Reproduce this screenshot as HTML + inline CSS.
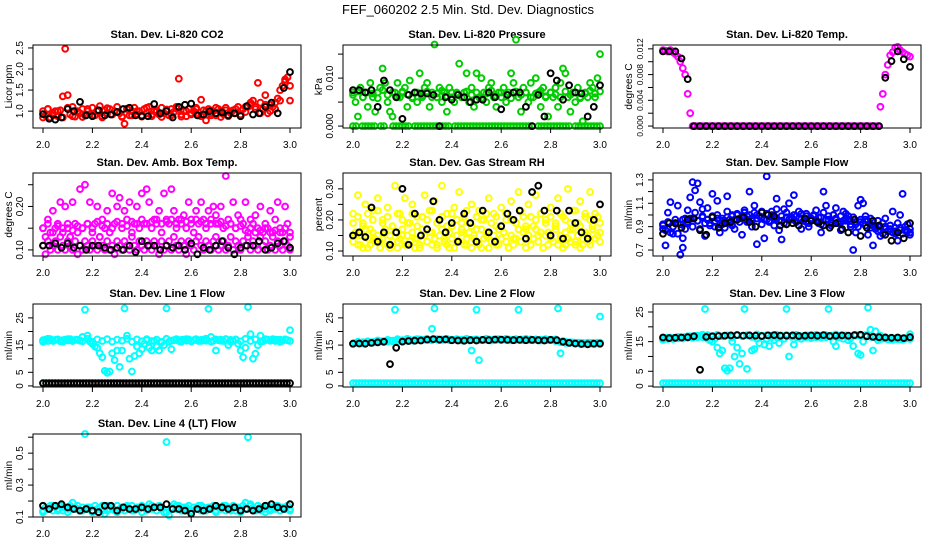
<!DOCTYPE html>
<html><head><meta charset="utf-8">
<style>
html,body{margin:0;padding:0;background:#fff;}
svg{display:block;font-family:"Liberation Sans",sans-serif;}
</style></head>
<body>
<svg id="chart" width="936" height="540" viewBox="0 0 936 540" xmlns="http://www.w3.org/2000/svg">
<rect width="936" height="540" fill="#fff"/>
<text x="468" y="14" text-anchor="middle" font-size="13">FEF_060202  2.5 Min. Std. Dev. Diagnostics</text>
</svg>
<script>
// ---- data ----
const xTickValues=[2.0,2.2,2.4,2.6,2.8,3.0];
const xTickLabels=["2.0","2.2","2.4","2.6","2.8","3.0"];

const co2Red=[1.0,0.9,1.05,0.85,0.95,1.0,0.88,1.02,1.35,2.48,1.38,0.92,1.1,0.87,1.0,0.95,1.05,0.9,1.0,0.93,1.08,0.9,1.0,1.12,0.88,1.02,0.95,1.05,0.92,1.0,1.1,0.95,0.88,0.7,1.05,0.9,1.0,1.08,0.93,1.0,0.9,1.05,0.95,1.1,0.88,1.0,1.02,0.92,1.08,0.95,1.0,0.9,1.05,0.98,1.1,1.77,0.92,1.0,0.88,1.05,0.95,1.0,1.08,0.9,1.27,1.02,0.78,1.05,0.95,1.0,0.9,1.05,1.0,0.93,1.08,0.88,1.0,1.02,0.95,1.1,0.92,1.05,0.98,1.1,1.15,1.25,1.1,1.67,1.2,1.05,1.38,0.95,1.15,1.1,1.05,1.3,1.25,1.6,1.75,1.8,1.25];
const co2RedB=[0.85,1.05,0.9,1.0,0.85,1.08,0.88,0.98,0.86,1.05,0.9,1.02,0.85,1.07,0.92,0.98,0.86,1.06,0.9,1.0,0.87,1.08,0.92,0.99,0.86,1.04,0.9,1.06,0.87,1.0,0.92,1.05,0.88,1.0,0.9,1.08,0.86,1.02,0.95,1.05,0.9,1.1,1.2,1.05,0.95,1.15,1.0,1.2,1.5,1.7,1.6];
const co2Black=[0.93,0.82,0.8,0.85,1.05,1.0,1.22,0.9,0.88,1.02,0.9,0.92,0.98,1.05,1.08,0.9,0.88,0.88,1.17,0.95,1.0,0.85,1.1,1.15,1.18,0.9,0.92,1.0,0.95,0.97,0.9,0.95,0.88,1.12,0.92,0.95,1.1,1.2,0.95,1.55,1.93];

const presGreen=[0.007,0.005,0.002,0.008,0.006,0.007,0.004,0.009,0.006,0.003,0.007,0.008,0.012,0.009,0.005,0.003,0.002,0.007,0.009,0.006,0.007,0.008,0.004,0.0095,0.006,0.007,0.005,0.011,0.006,0.008,0.009,0.004,0.007,0.017,0.006,0.008,0.005,0.007,0.003,0.008,0.006,0.005,0.007,0.013,0.006,0.007,0.011,0.005,0.008,0.004,0.011,0.006,0.010,0.007,0.005,0.008,0.009,0.006,0.004,0.007,0.006,0.008,0.005,0.007,0.011,0.009,0.018,0.006,0.003,0.008,0.007,0.005,0.009,0.006,0.010,0.007,0.004,0.008,0.006,0.002,0.007,0.006,0.008,0.004,0.009,0.012,0.011,0.006,0.003,0.007,0.005,0.008,0.006,0.001,0.007,0.006,0.009,0.008,0.006,0.010,0.015];
const presGreenB=[0.0065,0.0072,0.006,0.007,0.0068,0.0058,0.0075,0.0065,0.007,0.006,0.0072,0.0066,0.0058,0.007,0.0064,0.0072,0.006,0.0068,0.0074,0.0062,0.007,0.0066,0.006,0.0072,0.0065,0.007,0.0058,0.0068,0.0074,0.0062,0.007,0.0066,0.0058,0.0072,0.0065,0.007,0.006,0.0068,0.0074,0.0062,0.007,0.0066,0.006,0.0072,0.0065,0.007,0.0058,0.0068,0.0074,0.0068,0.0072];
const presZero=[0,0,null,0,0,0,0,0,null,0,0,null,null,0,0,0,0,0,0,null,0,0,0,0,0,0,0,0,0,0,0,0,null,0,0,0,0,0,0,0,0,0,0,0,0,0,0,0,0,0,0,0,0,0,0,0,0,0,0,null,0,0,0,0,0,0,0,0,0,0,0,null,0,0,0,0,0,0,0,0,0];
const presBlack=[0.0075,0.0075,0.007,0.0075,0.004,0.0095,0.0075,0.006,0.0015,0.0065,0.007,0.0068,0.0068,0.0065,0,0.006,0.0055,0.0065,0.006,0.005,0.0055,0.0055,0.007,0.006,0.0035,0.0065,0.007,0.007,0.004,0,0.0065,0.002,0.011,0.0095,0.0055,0.0085,0.007,0.0068,0.002,0.004,0.0085];

const tempMag=[0.0118,0.0117,0.0116,0.0118,0.0115,0.0112,0.0108,0.0100,0.0090,0.0080,0.0050,0.002,
0,0,0,0,0,0,0,0,0,0, 0,0,0,0,0,0,0,0,0,0, 0,0,0,0,0,0,0,0,0,0, 0,0,0,0,0,0,0,0,0,0,
0,0,0,0,0,0,0,0,0,0, 0,0,0,0,0,0,0,0,0,0, 0,0,0,0,0,0,0,0,0,0, 0,0,0,0,0,0,
0.003,0.005,0.008,0.0095,0.011,0.0115,0.0122,0.0123,0.0118,0.0115,0.0112,0.011,0.0108];
const tempBlack=[0.0116,0.0116,0.0116,0.0105,0.0073,0,0,0,0,0,0,0,0,0,0,0,0,0,0,0,0,0,0,0,0,0,0,0,0,0,0,0,0,0,0,0,0.0075,0.0101,0.0116,0.0104,0.0092];

const ambMagA=[0.15,0.13,0.17,0.14,0.19,0.15,0.16,0.21,0.14,0.20,0.15,0.13,0.21,0.16,0.14,0.24,0.15,0.25,0.16,0.21,0.14,0.16,0.20,0.13,0.17,0.15,0.19,0.14,0.23,0.16,0.20,0.22,0.15,0.19,0.17,0.21,0.14,0.16,0.20,0.15,0.23,0.16,0.24,0.21,0.15,0.17,0.16,0.19,0.14,0.23,0.17,0.16,0.24,0.19,0.15,0.17,0.16,0.18,0.15,0.21,0.17,0.14,0.19,0.16,0.21,0.17,0.15,0.19,0.16,0.20,0.18,0.16,0.20,0.15,0.27,0.17,0.16,0.21,0.15,0.18,0.17,0.16,0.21,0.14,0.17,0.16,0.18,0.15,0.20,0.14,0.16,0.15,0.19,0.14,0.17,0.21,0.15,0.14,0.20,0.16,0.13];
const ambMagB=[0.11,0.09,0.12,0.10,0.11,0.12,0.10,0.13,0.11,0.10,0.12,0.11,0.10,0.12,0.09,0.11,0.10,0.12,0.11,0.10,0.12,0.11,0.10,0.13,0.11,0.10,0.12,0.10,0.11,0.09,0.12,0.11,0.10,0.12,0.11,0.10,0.13,0.11,0.10,0.12,0.11,0.10,0.12,0.11,0.10,0.12,0.11,0.09,0.12,0.10,0.11,0.12,0.10,0.13,0.11,0.10,0.12,0.11,0.09,0.12,0.11,0.10,0.12,0.13,0.11,0.10,0.12,0.11,0.10,0.12,0.13,0.10,0.11,0.12,0.10,0.11,0.13,0.10,0.12,0.11,0.10,0.12,0.11,0.13,0.10,0.12,0.11,0.10,0.13,0.11,0.12,0.10,0.11,0.13,0.10,0.12,0.11,0.10,0.12,0.11,0.10];
const ambMagC=[0.15,0.16,0.14,0.155,0.15,0.16,0.145,0.155,0.15,0.16,0.15,0.165,0.155,0.16,0.15,0.165,0.16,0.155,0.165,0.16,0.17,0.16,0.165,0.17,0.16,0.165,0.17,0.16,0.17,0.165,0.16,0.17,0.165,0.16,0.17,0.16,0.165,0.155,0.16,0.15,0.155,0.145,0.15,0.14,0.145,0.15,0.14,0.145,0.14,0.15,0.14];
const ambBlack=[0.11,0.11,0.115,0.105,0.115,0.105,0.11,0.10,0.11,0.11,0.105,0.10,0.105,0.10,0.11,0.095,0.12,0.11,0.11,0.10,0.11,0.105,0.11,0.10,0.115,0.09,0.105,0.10,0.11,0.12,0.105,0.09,0.105,0.11,0.11,0.12,0.10,0.105,0.115,0.12,0.105];

const rhYelA=[0.22,0.15,0.28,0.12,0.19,0.25,0.11,0.17,0.23,0.14,0.27,0.13,0.20,0.16,0.24,0.11,0.18,0.31,0.13,0.22,0.15,0.27,0.12,0.19,0.25,0.14,0.21,0.11,0.17,0.28,0.13,0.23,0.16,0.26,0.12,0.20,0.31,0.14,0.22,0.11,0.18,0.24,0.13,0.29,0.16,0.21,0.12,0.19,0.25,0.14,0.17,0.23,0.11,0.20,0.15,0.27,0.13,0.22,0.18,0.12,0.24,0.16,0.20,0.11,0.26,0.14,0.19,0.29,0.13,0.21,0.17,0.25,0.12,0.18,0.28,0.15,0.22,0.11,0.20,0.16,0.24,0.13,0.19,0.27,0.14,0.21,0.12,0.30,0.17,0.23,0.13,0.19,0.26,0.12,0.22,0.15,0.29,0.18,0.14,0.21,0.16];
const rhYelB=[0.13,0.16,0.12,0.15,0.11,0.17,0.14,0.12,0.16,0.13,0.15,0.11,0.14,0.17,0.12,0.15,0.13,0.16,0.11,0.14,0.17,0.12,0.15,0.13,0.16,0.11,0.14,0.12,0.17,0.15,0.13,0.16,0.12,0.14,0.11,0.15,0.17,0.13,0.12,0.16,0.14,0.11,0.15,0.13,0.17,0.12,0.14,0.16,0.11,0.15,0.13,0.12,0.17,0.14,0.16,0.11,0.13,0.15,0.12,0.17,0.14,0.16,0.13,0.11,0.15,0.12,0.14,0.17,0.13,0.16,0.11,0.15,0.12,0.14,0.17,0.13,0.16,0.11,0.15,0.12,0.14,0.13,0.17,0.12,0.15,0.11,0.16,0.14,0.13,0.17,0.12,0.15,0.11,0.14,0.16,0.13,0.12,0.17,0.14,0.15,0.13];
const rhYelC=[0.19,0.21,0.18,0.22,0.2,0.23,0.19,0.21,0.18,0.22,0.2,0.19,0.22,0.18,0.21,0.2,0.23,0.19,0.21,0.18,0.22,0.2,0.19,0.23,0.18,0.21,0.2,0.22,0.19,0.21,0.18,0.22,0.2,0.19,0.23,0.18,0.21,0.2,0.22,0.19,0.21,0.18,0.22,0.2,0.19,0.23,0.18,0.21,0.2,0.22,0.19];
const rhBlack=[0.15,0.16,0.145,0.24,0.13,0.16,0.12,0.16,0.30,0.12,0.22,0.15,0.17,0.26,0.20,0.16,0.19,0.13,0.22,0.19,0.13,0.23,0.16,0.13,0.18,0.22,0.20,0.23,0.14,0.29,0.31,0.23,0.15,0.23,0.14,0.23,0.19,0.16,0.14,0.20,0.25];

const flowBlueA=[0.91,0.87,0.94,0.85,0.90,0.96,0.84,0.92,0.80,0.88,0.93,0.97,0.90,1.02,0.95,0.88,0.99,0.93,0.96,0.91,0.98,0.94,1.00,0.92,0.97,0.95,1.03,0.93,0.99,0.96,1.01,0.94,0.98,1.04,0.96,1.00,0.95,1.02,0.97,0.99,1.03,0.96,1.01,0.94,1.00,0.97,1.05,0.95,0.99,0.93,1.02,0.96,0.98,1.00,0.94,0.97,1.01,0.95,0.99,0.93,0.97,1.00,0.95,0.98,0.92,1.02,0.96,0.99,0.94,1.00,0.97,0.93,0.99,0.95,1.01,0.96,0.92,0.98,0.94,0.90,0.96,0.93,0.99,0.95,0.97,0.91,0.88,0.86,0.90,0.84,0.88,0.86,0.91,0.85,0.89,0.93,0.87,0.84,0.90,0.86,0.85];
const flowBlueB=[0.88,0.74,1.02,1.11,0.84,0.93,1.08,0.66,0.72,0.97,1.04,1.15,1.28,1.21,1.27,1.11,1.05,0.82,1.06,0.93,1.18,0.90,1.12,0.85,0.92,0.89,1.16,0.96,0.91,0.88,1.00,0.97,0.83,1.02,0.94,1.20,0.90,1.08,0.75,0.99,0.92,0.80,1.33,0.95,1.03,0.91,1.14,0.87,0.79,1.05,0.92,1.10,0.97,1.17,0.94,1.03,0.88,0.95,1.01,0.90,0.96,0.99,1.04,0.93,0.85,1.20,1.08,0.96,0.91,1.00,1.06,0.94,0.87,1.03,0.95,0.99,0.90,0.70,0.85,1.08,1.13,1.10,0.96,0.83,0.92,0.74,0.89,0.95,0.82,0.93,0.97,0.86,0.91,1.03,0.84,0.78,1.00,1.18,0.87,0.92,0.83];
const flowBlueC=[0.92,0.88,0.9,0.93,0.96,0.94,0.97,0.95,0.98,0.96,0.99,0.97,0.95,0.98,1.0,0.96,0.98,0.99,0.97,1.0,0.98,0.96,0.99,0.97,0.95,0.98,0.96,0.99,0.97,0.94,0.97,0.95,0.98,0.96,0.93,0.96,0.94,0.97,0.95,0.92,0.94,0.91,0.89,0.9,0.87,0.9,0.88,0.86,0.89,0.87,0.88];
const flowBlack=[0.84,0.93,0.93,0.89,0.96,0.97,0.87,0.83,0.98,0.89,0.93,0.94,0.96,0.98,0.94,0.90,1.02,1.00,0.99,0.91,0.92,0.93,0.91,0.97,0.95,0.94,0.91,0.89,0.93,0.88,0.85,0.96,0.82,0.89,0.95,0.91,0.83,0.78,0.85,0.80,0.93];

const line1CyanA=[16.8,17,16.5,17.2,16.6,16.9,17.1,16.4,16.8,17,16.7,17.2,16.5,16.9,17,16.6,18,28,18.5,16.3,15.5,14.5,14,12,10.5,5.5,4.8,5.3,12,9.5,13,7,13,28.5,18.5,10,5.3,11,14.5,12,13.5,15.5,16.8,14,13,16.5,14.5,13,16,15,28.5,16.2,13.5,16.8,17.2,16.5,16.9,17,16.6,17.1,16.4,16.8,17.2,16.5,16.9,17,16.6,28.3,18,16.6,13,16.8,17,16.5,17.2,15,16.9,16.6,17.1,15.5,13,10.5,14,29,19,10,11.8,15,18.5,16.4,16.8,17,16.7,17.2,16.5,16.9,17,16.6,17.1,16.8,20.5];
const line1CyanB=[16.2,17.3,16.5,17,16.3,17.2,16.6,16.9,16.4,17.3,16.2,17.1,16.5,17.2,16.3,17,16.6,17.3,16.2,17.1,16.4,17.2,16.5,17,16.3,17.3,16.6,17.1,16.2,17.2,16.4,17,16.5,17.3,16.3,17.1,16.6,17.2,16.2,17,16.4,17.3,16.5,17.1,16.3,17.2,16.6,17,16.2,17.1,16.5];
const line1Zero=[1];
const line1Black=[1,1,1,1,1,1,1,1,1,1,1,1,1,1,1,1,1,1,1,1,1,1,1,1,1,1,1,1,1,1,1,1,1,1,1,1,1,1,1,1,1,1,1,1,1,1,1,1,1,1,1,1,1,1,1,1,1,1,1,1,1,1,1,1,1,1,1,1,1,1,1,1,1,1,1,1,1,1,1,1,1];

const line2CyanA=[15.5,15.8,16,15.6,16.1,15.8,16.2,16,15.9,16.3,16.1,16.4,16.2,16.5,16.3,16.6,16.4,28,16.5,16.7,16.4,16.8,16.6,16.9,16.7,17,16.8,17.1,16.9,17,17.2,16.9,21,28.5,17,16.8,17.1,16.9,17.2,16.8,17,16.9,17.1,16.8,17,16.9,17.2,16.7,13,17,28,9.5,16.8,17,16.9,17.1,16.8,17,16.9,17.2,16.8,17,16.9,17.1,16.8,17,16.9,28,17.1,16.8,17,16.9,17.1,16.8,17,16.7,17,16.9,17.1,16.8,17,16.9,17.1,28.5,12,16.5,16.2,16,15.8,16,15.6,15.9,15.5,15.8,15.6,15.9,15.5,15.8,15.6,15.9,25.5];
const line2CyanB=[15.5,16.2,15.8,16.4,16.1,16.7,16.4,16.9,16.6,17.2,16.8,17.3,16.7,17.2,16.9,17.3,16.8,17.2,16.9,17.3,16.8,17.2,16.7,17.3,16.9,17.1,16.8,17.3,16.7,17.2,16.9,17.3,16.8,17.2,16.9,17.3,16.8,17.1,16.7,17.2,16.9,16.5,16.1,15.8,16,15.6,15.9,15.5,15.8,15.6,15.9];
const line2Zero=[1,1,1,1,1,1,1,1,1,1,1,1,1,1,1,1,1,1,1,1,1,1,1,1,1,1,1,1,1,1,1,1,1,1,1,1,1,1,1,1,1,1,1,1,1,1,1,1,1,1,1,1,1,1,1,1,1,1,1,1,1,1,1,1,1,1,1,1,1,1,1,1,1,1,1,1,1,1,1,1,1];
const line2Black=[15.5,15.6,15.5,15.8,16,16.2,8,14,16.3,16.5,16.6,16.7,17,17.2,17,17.1,16.8,16.7,16.6,16.8,16.7,16.9,16.8,17,17,16.9,16.8,16.9,16.8,16.9,16.8,16.7,16.9,16.8,16.2,15.8,15.6,15.4,15.3,15.5,15.5];

const line3CyanA=[15.8,16.2,15.9,16.4,16,16.3,16.1,16.5,16.2,16.6,16.3,16.8,16.4,16.9,16.5,17,17.3,26,16,15.5,15,16,13,11,12,6,5.2,6,15,10,13,7.5,11,26,5.8,17,12,12.5,16,14.5,17,14,16,13.5,17,15.5,16.5,14.5,17,16,26,10,17,14,16.5,17,16,16.8,16.5,17,16.2,16.8,16.5,17,16.3,16.8,16.5,26,17,15,13.5,16.5,17,16,16.8,15.5,16.2,13.5,17,11,10.5,15,17,26.5,19,12,18.5,15.5,17,16,16.5,15.8,16.2,15.6,16,15.8,16.1,15.7,16,16.2,17.5];
const line3CyanB=[15.6,16.3,15.9,16.6,16.1,16.8,16.3,17,16.5,17.2,16.6,17.3,16.8,17.1,16.5,17.3,16.9,17.2,16.6,17.4,16.8,17.1,16.5,17.3,16.9,17.2,16.6,17.3,16.8,17.1,16.5,17.3,16.9,17.2,16.6,17.4,16.8,17.1,16.5,17.3,16.9,17.2,16.6,16.3,15.9,16.1,15.7,16,15.8,16.1,15.9];
const line3Zero=[1,1,1,1,1,1,1,1,1,1,1,1,1,1,1,1,1,1,1,1,1,1,1,1,1,1,1,1,1,1,1,1,1,1,1,1,1,1,1,1,1,1,1,1,1,1,1,1,1,1,1,1,1,1,1,1,1,1,1,1,1,1,1,1,1,1,1,1,1,1,1,1,1,1,1,1,1,1,1,1,1];
const line3Black=[16.4,16.2,16.3,16.4,16.5,16.8,5.5,16.6,16.8,16.9,17,17.1,17.2,17,17.1,17,16.9,17.1,17.2,17,17,17.1,16.9,17,17.1,17,17.2,16.9,17,17.1,17,17.2,17.3,16.8,16.6,16.5,16.4,16.3,16.4,16.2,16.5];

const line4CyanA=[0.14,0.16,0.15,0.17,0.14,0.16,0.15,0.17,0.14,0.16,0.15,0.17,0.19,0.16,0.15,0.14,0.16,0.62,0.15,0.16,0.14,0.17,0.15,0.16,0.14,0.12,0.17,0.15,0.16,0.14,0.17,0.15,0.16,0.14,0.16,0.15,0.17,0.14,0.16,0.15,0.17,0.16,0.14,0.18,0.15,0.16,0.14,0.17,0.15,0.13,0.57,0.11,0.16,0.18,0.15,0.17,0.14,0.16,0.15,0.17,0.14,0.16,0.15,0.17,0.14,0.16,0.15,0.16,0.15,0.17,0.14,0.16,0.15,0.17,0.14,0.16,0.15,0.17,0.14,0.16,0.15,0.17,0.19,0.6,0.18,0.16,0.15,0.17,0.14,0.16,0.15,0.17,0.14,0.16,0.15,0.17,0.14,0.16,0.15,0.17,0.14];
const line4CyanB=[0.13,0.15,0.17,0.14,0.16,0.13,0.15,0.17,0.14,0.16,0.13,0.15,0.17,0.14,0.16,0.13,0.15,0.17,0.14,0.16,0.13,0.15,0.17,0.14,0.16,0.13,0.15,0.17,0.14,0.16,0.13,0.15,0.17,0.14,0.16,0.13,0.15,0.17,0.14,0.16,0.13,0.15,0.17,0.14,0.16,0.13,0.15,0.17,0.14,0.16,0.15];
const line4Black=[0.17,0.15,0.17,0.18,0.16,0.15,0.14,0.15,0.14,0.13,0.17,0.17,0.14,0.16,0.15,0.15,0.16,0.15,0.16,0.16,0.18,0.15,0.15,0.14,0.12,0.15,0.14,0.15,0.17,0.16,0.15,0.16,0.14,0.15,0.14,0.15,0.17,0.18,0.16,0.15,0.18];

// ---- layout ----
const NS="http://www.w3.org/2000/svg";
const svg=document.getElementById('chart');
const COLX=[33,343,653], ROWY=[45,173,304,434], BW=268, BH=83;
const panels=[
 {key:'co2',title:'Stan. Dev. Li-820 CO2',ylab:'Licor ppm',c:0,r:0,dom:[0.6,2.57],ticks:[1.0,1.5,2.0,2.5],labs:['1.0','1.5','2.0','2.5'],series:[[co2Red,'#ff0000'],[co2RedB,'#ff0000'],[co2Black,'#000']]},
 {key:'pressure',title:'Stan. Dev. Li-820 Pressure',ylab:'kPa',c:1,r:0,dom:[-0.0004,0.0169],ticks:[0,0.005,0.010,0.015],labs:['0.000','','0.010',''],series:[[presGreen,'#00cd00'],[presGreenB,'#00cd00'],[presZero,'#00cd00'],[presBlack,'#000']]},
 {key:'temp',title:'Stan. Dev. Li-820 Temp.',ylab:'degrees C',c:2,r:0,dom:[-0.0003,0.0126],ticks:[0,0.002,0.004,0.006,0.008,0.010,0.012],labs:['0.000','','0.004','','0.008','','0.012'],fs:8.5,series:[[tempMag,'#ff00ff'],[tempBlack,'#000']]},
 {key:'ambbox',title:'Stan. Dev. Amb. Box Temp.',ylab:'degrees C',c:0,r:1,dom:[0.086,0.277],ticks:[0.10,0.15,0.20,0.25],labs:['0.10','','0.20',''],series:[[ambMagA,'#ff00ff'],[ambMagB,'#ff00ff'],[ambMagC,'#ff00ff'],[ambBlack,'#000']]},
 {key:'rh',title:'Stan. Dev. Gas Stream RH',ylab:'percent',c:1,r:1,dom:[0.084,0.351],ticks:[0.10,0.15,0.20,0.25,0.30],labs:['0.10','','0.20','','0.30'],series:[[rhYelA,'#ffff00'],[rhYelB,'#ffff00'],[rhYelC,'#ffff00'],[rhBlack,'#000']]},
 {key:'sampleflow',title:'Stan. Dev. Sample Flow',ylab:'ml/min',c:2,r:1,dom:[0.649,1.359],ticks:[0.7,0.8,0.9,1.0,1.1,1.2,1.3],labs:['0.7','','0.9','','1.1','','1.3'],series:[[flowBlueA,'#0000ff'],[flowBlueB,'#0000ff'],[flowBlueC,'#0000ff'],[flowBlack,'#000']]},
 {key:'line1',title:'Stan. Dev. Line 1 Flow',ylab:'ml/min',c:0,r:2,dom:[-0.4,30.1],ticks:[0,5,10,15,20,25],labs:['0','5','','15','','25'],series:[[line1CyanA,'#00ffff'],[line1CyanB,'#00ffff'],[line1Zero,'#00ffff'],[line1Black,'#000']]},
 {key:'line2',title:'Stan. Dev. Line 2 Flow',ylab:'ml/min',c:1,r:2,dom:[-0.4,30.1],ticks:[0,5,10,15,20,25],labs:['0','5','','15','','25'],series:[[line2CyanA,'#00ffff'],[line2CyanB,'#00ffff'],[line2Zero,'#00ffff'],[line2Black,'#000']]},
 {key:'line3',title:'Stan. Dev. Line 3 Flow',ylab:'ml/min',c:2,r:2,dom:[-0.3,27.7],ticks:[0,5,10,15,20,25],labs:['0','5','','15','','25'],series:[[line3CyanA,'#00ffff'],[line3CyanB,'#00ffff'],[line3Zero,'#00ffff'],[line3Black,'#000']]},
 {key:'line4',title:'Stan. Dev. Line 4 (LT) Flow',ylab:'ml/min',c:0,r:3,dom:[0.1,0.62],ticks:[0.1,0.2,0.3,0.4,0.5,0.6],labs:['0.1','','0.3','','0.5',''],series:[[line4CyanA,'#00ffff'],[line4CyanB,'#00ffff'],[line4Black,'#000']]}
];

function mk(tag,attrs,parent){const e=document.createElementNS(NS,tag);for(const k in attrs)e.setAttribute(k,attrs[k]);(parent||svg).appendChild(e);return e;}

panels.forEach(p=>{
  const L=COLX[p.c], T=ROWY[p.r], B=T+BH;
  const xs=v=>L+10+(v-2)*247;
  const ys=v=>B-(v-p.dom[0])/(p.dom[1]-p.dom[0])*BH;
  const g=mk('g',{});
  
  
  const t=mk('text',{x:L+BW/2,y:T-7,'text-anchor':'middle','font-size':'11','font-weight':'bold'},g);
  t.textContent=p.title;
  
  
  const pts=mk('g',{},g);
  
  
  p.series.forEach(s=>{
    const vals=s[0], col=s[1], n=vals.length;
    vals.forEach((v,i)=>{
      if(v===null)return;
      const xv=n>1?2+i/(n-1):2;
      const c=mk('circle',{cx:xs(xv).toFixed(1),cy:ys(v).toFixed(1),r:2.9,fill:'none',stroke:col,'stroke-width':2},pts);
      
      
    });
  });
  const box=mk('rect',{x:L,y:T,width:BW,height:BH,fill:'none',stroke:'#000','stroke-width':1},g);
  
  
  const xa=mk('g',{},g);
  
  
  xTickValues.forEach((v,i)=>{
    mk('line',{x1:xs(v),x2:xs(v),y1:B,y2:B+5,stroke:'#000'},xa);
    const tx=mk('text',{x:xs(v),y:B+20,'text-anchor':'middle','font-size':'10'},xa);
    tx.textContent=xTickLabels[i];
    
    
  });
  const ya=mk('g',{},g);
  
  
  p.ticks.forEach((v,i)=>{
    const y=ys(v);
    mk('line',{x1:L-5,x2:L,y1:y,y2:y,stroke:'#000'},ya);
    if(p.labs[i]){
      const tx=mk('text',{x:0,y:0,'text-anchor':'middle','font-size':String(p.fs||10),transform:`translate(${L-10},${y}) rotate(-90)`},ya);
      tx.textContent=p.labs[i];
      
      
    }
  });
  const yt=mk('text',{x:0,y:0,'text-anchor':'middle','font-size':'10',transform:`translate(${L-21},${T+BH/2}) rotate(-90)`},g);
  yt.textContent=p.ylab;
  
  
});
</script>
</body></html>
